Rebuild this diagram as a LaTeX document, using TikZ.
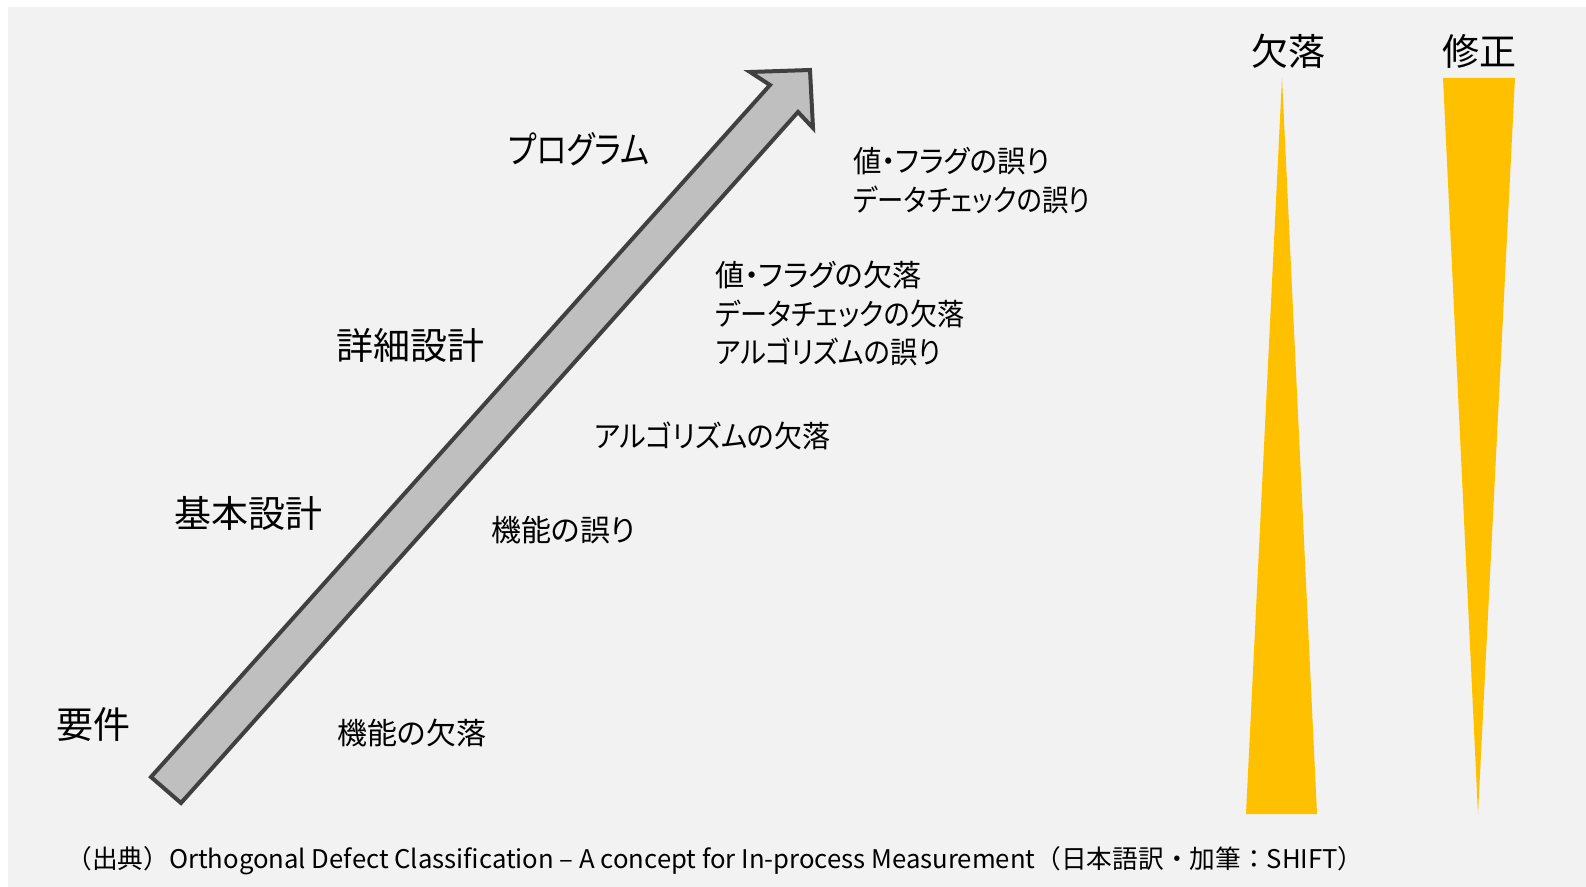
\documentclass[tikz,border=0pt]{standalone}
\usepackage{fontspec}
\usepackage{graphicx}
\setmainfont{Noto Sans CJK JP}[RawFeature=+palt]
\newfontfamily\footfont{Noto Sans CJK JP}
\newcommand\fitw[2]{\resizebox{#1}{\height}{#2}}
\definecolor{bg}{HTML}{F2F2F2}
\definecolor{arrowfill}{HTML}{BFBFBF}
\definecolor{arrowline}{HTML}{404040}
\definecolor{gold}{HTML}{FFC000}
\tikzset{
  big/.style={anchor=west,inner sep=0pt,font=\fontsize{18.5pt}{22pt}\selectfont},
  mid/.style={anchor=west,inner sep=0pt,font=\fontsize{15pt}{19.25pt}\selectfont,align=left},
  foot/.style={anchor=west,inner sep=0pt,font=\footfont\fontsize{12.85pt}{14pt}\selectfont},
  bar/.style={fill=gold,draw=none}
}
\begin{document}
\begin{tikzpicture}[x=0.5pt,y=-0.5pt]
\useasboundingbox (0,0) rectangle (1586,887);
\fill[bg] (8,7) rectangle (1586,887);
% big arrow
\draw[line width=2pt,draw=arrowline,fill=arrowfill,line join=miter]
  (151,777) -- (770,85) -- (750,72) -- (810,70) -- (813,128) -- (798,112) -- (181,803) -- cycle;
% phase labels
\node[big] (req) at (56,725) {要件};
\node[big] (basic) at (174,513) {基本設計};
\node[big] (detail) at (336,345) {詳細設計};
\node[big] (prog) at (508,149) {\fitw{70.5pt}{プログラム}};
% defect labels
\node[mid] (d1) at (337,733) {機能の欠落};
\node[mid] (d2) at (491,530) {機能の誤り};
\node[mid] (d3) at (594,436) {\fitw{118pt}{アルゴリズムの欠落}};
\node[mid,anchor=north west] (d4) at (715,261) {\fitw{103pt}{値・フラグの欠落}\\\fitw{124.5pt}{データチェックの欠落}\\\fitw{112.5pt}{アルゴリズムの誤り}};
\node[mid,anchor=north west] (d5) at (853,147) {\fitw{98pt}{値・フラグの誤り}\\\fitw{118.5pt}{データチェックの誤り}};
% right side
\node[big,anchor=center] (miss) at (1288,51) {欠落};
\node[big,anchor=center] (fix) at (1479,51) {修正};
\fill[bar] (1282,78) -- (1317,814) -- (1246,814) -- cycle;
\fill[bar] (1443,78) -- (1515,78) -- (1478,814) -- cycle;
% footer
\node[foot] (src) at (66,861) {（出典）Orthogonal Defect Classification – A concept for In-process Measurement（日本語訳・加筆：SHIFT）};
\end{tikzpicture}
\end{document}
